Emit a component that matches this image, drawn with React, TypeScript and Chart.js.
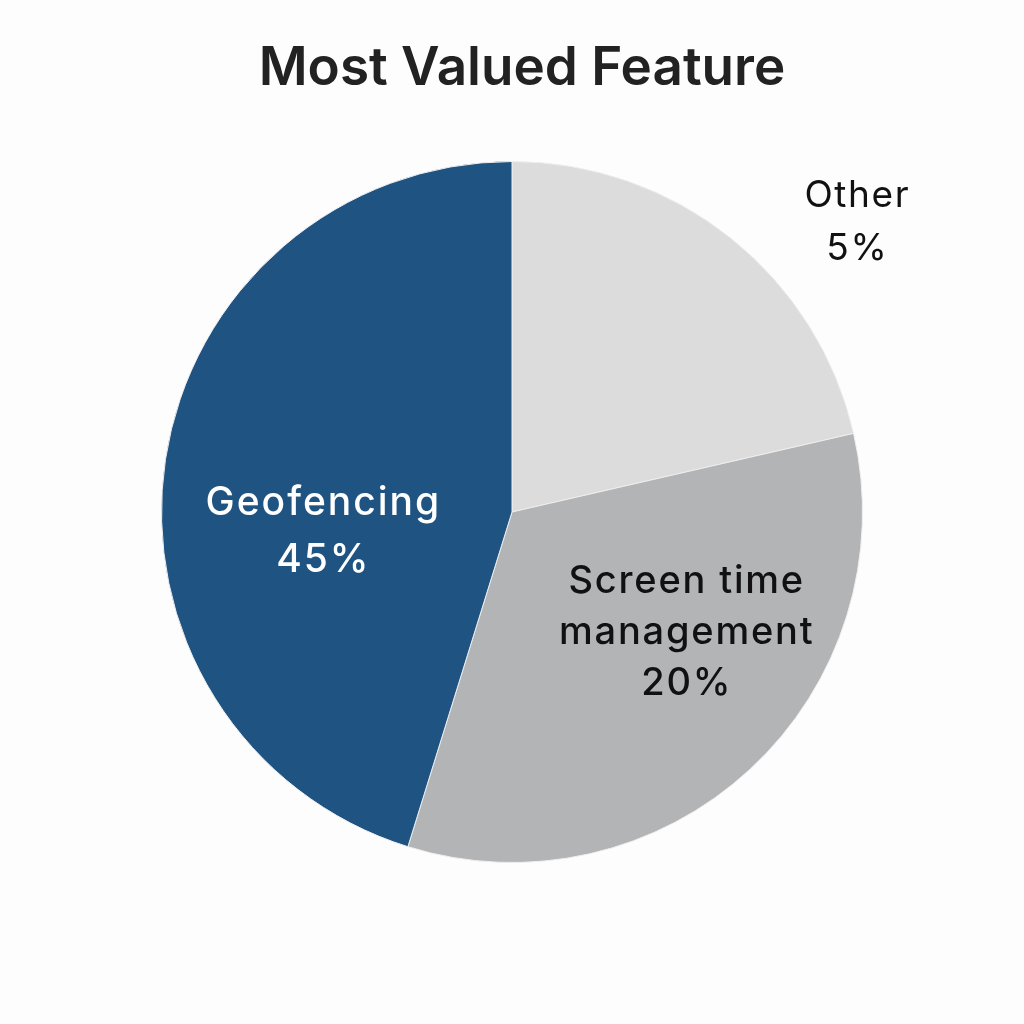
import React, { useEffect, useRef } from "react";
import { Chart, registerables } from "chart.js";

Chart.register(...registerables);

const TITLE = "Most Valued Feature";
// slices in drawing order (clockwise from 12 o'clock), sized as drawn in the picture
const categories = ["Other", "Screen time management", "Geofencing"];
const sliceValues = [21.4, 33.4, 45.2];
const sliceColors = ["#dcdcdc", "#b3b4b6", "#1f5382"];
// printed labels
const labelLines = [["Other", "5%"], ["Screen time", "management", "20%"], ["Geofencing", "45%"]];
const labelColors = ["#111111", "#111111", "#ffffff"];

const FONT = "Inter, 'Noto Sans', 'DejaVu Sans', sans-serif";

// label anchor offsets as fraction of radius, plus line height, font
const labelLayout = [
  { dx: 0.983, dy: -0.869, lh: 53, size: 37, weight: "400", ls: 1.6 },
  { dx: 0.496, dy: 0.231, lh: 51, size: 38, weight: "500", ls: 1.8 },
  { dx: -0.541, dy: 0.009, lh: 57, size: 39, weight: "500", ls: 2.0 },
];

const overlayPlugin = {
  id: "overlay",
  afterDraw(chart: any) {
    const ctx = chart.ctx;
    const meta = chart.getDatasetMeta(0);
    const arc0 = meta.data[0];
    const cx = arc0.x;
    const cy = arc0.y;
    const r = arc0.outerRadius;
    ctx.save();
    ctx.textAlign = "center";
    ctx.textBaseline = "alphabetic";
    ctx.fillStyle = "#222222";
    ctx.font = `600 53px ${FONT}`;
    (ctx as any).letterSpacing = "0px";
    ctx.fillText(TITLE, chart.width / 2 + 10, 85);
    labelLines.forEach((lines, i) => {
      const L = labelLayout[i];
      ctx.font = `${L.weight} ${L.size}px ${FONT}`;
      (ctx as any).letterSpacing = `${L.ls}px`;
      ctx.fillStyle = labelColors[i];
      lines.forEach((t, j) => {
        ctx.fillText(t, cx + L.dx * r + L.ls / 2, cy + L.dy * r + j * L.lh);
      });
    });
    ctx.restore();
  },
};

export default function App() {
  const ref = useRef<HTMLCanvasElement>(null);
  useEffect(() => {
    if (!ref.current) return;
    const chart = new Chart(ref.current, {
      type: "pie",
      data: {
        labels: categories,
        datasets: [
          {
            data: sliceValues,
            backgroundColor: sliceColors,
            borderColor: "#eeeeee",
            borderWidth: 1,
          },
        ],
      },
      options: {
        animation: false,
        responsive: false,
        layout: { padding: 161 },
        plugins: {
          legend: { display: false },
          title: { display: false },
          tooltip: { enabled: false },
        },
      },
      plugins: [overlayPlugin],
    });
    return () => chart.destroy();
  }, []);
  return (
    <div style={{ position: "fixed", left: 0, top: 0, width: 1024, height: 1024, background: "#fdfdfd" }}>
      <canvas ref={ref} width={1024} height={1024} style={{ width: 1024, height: 1024 }} />
    </div>
  );
}
